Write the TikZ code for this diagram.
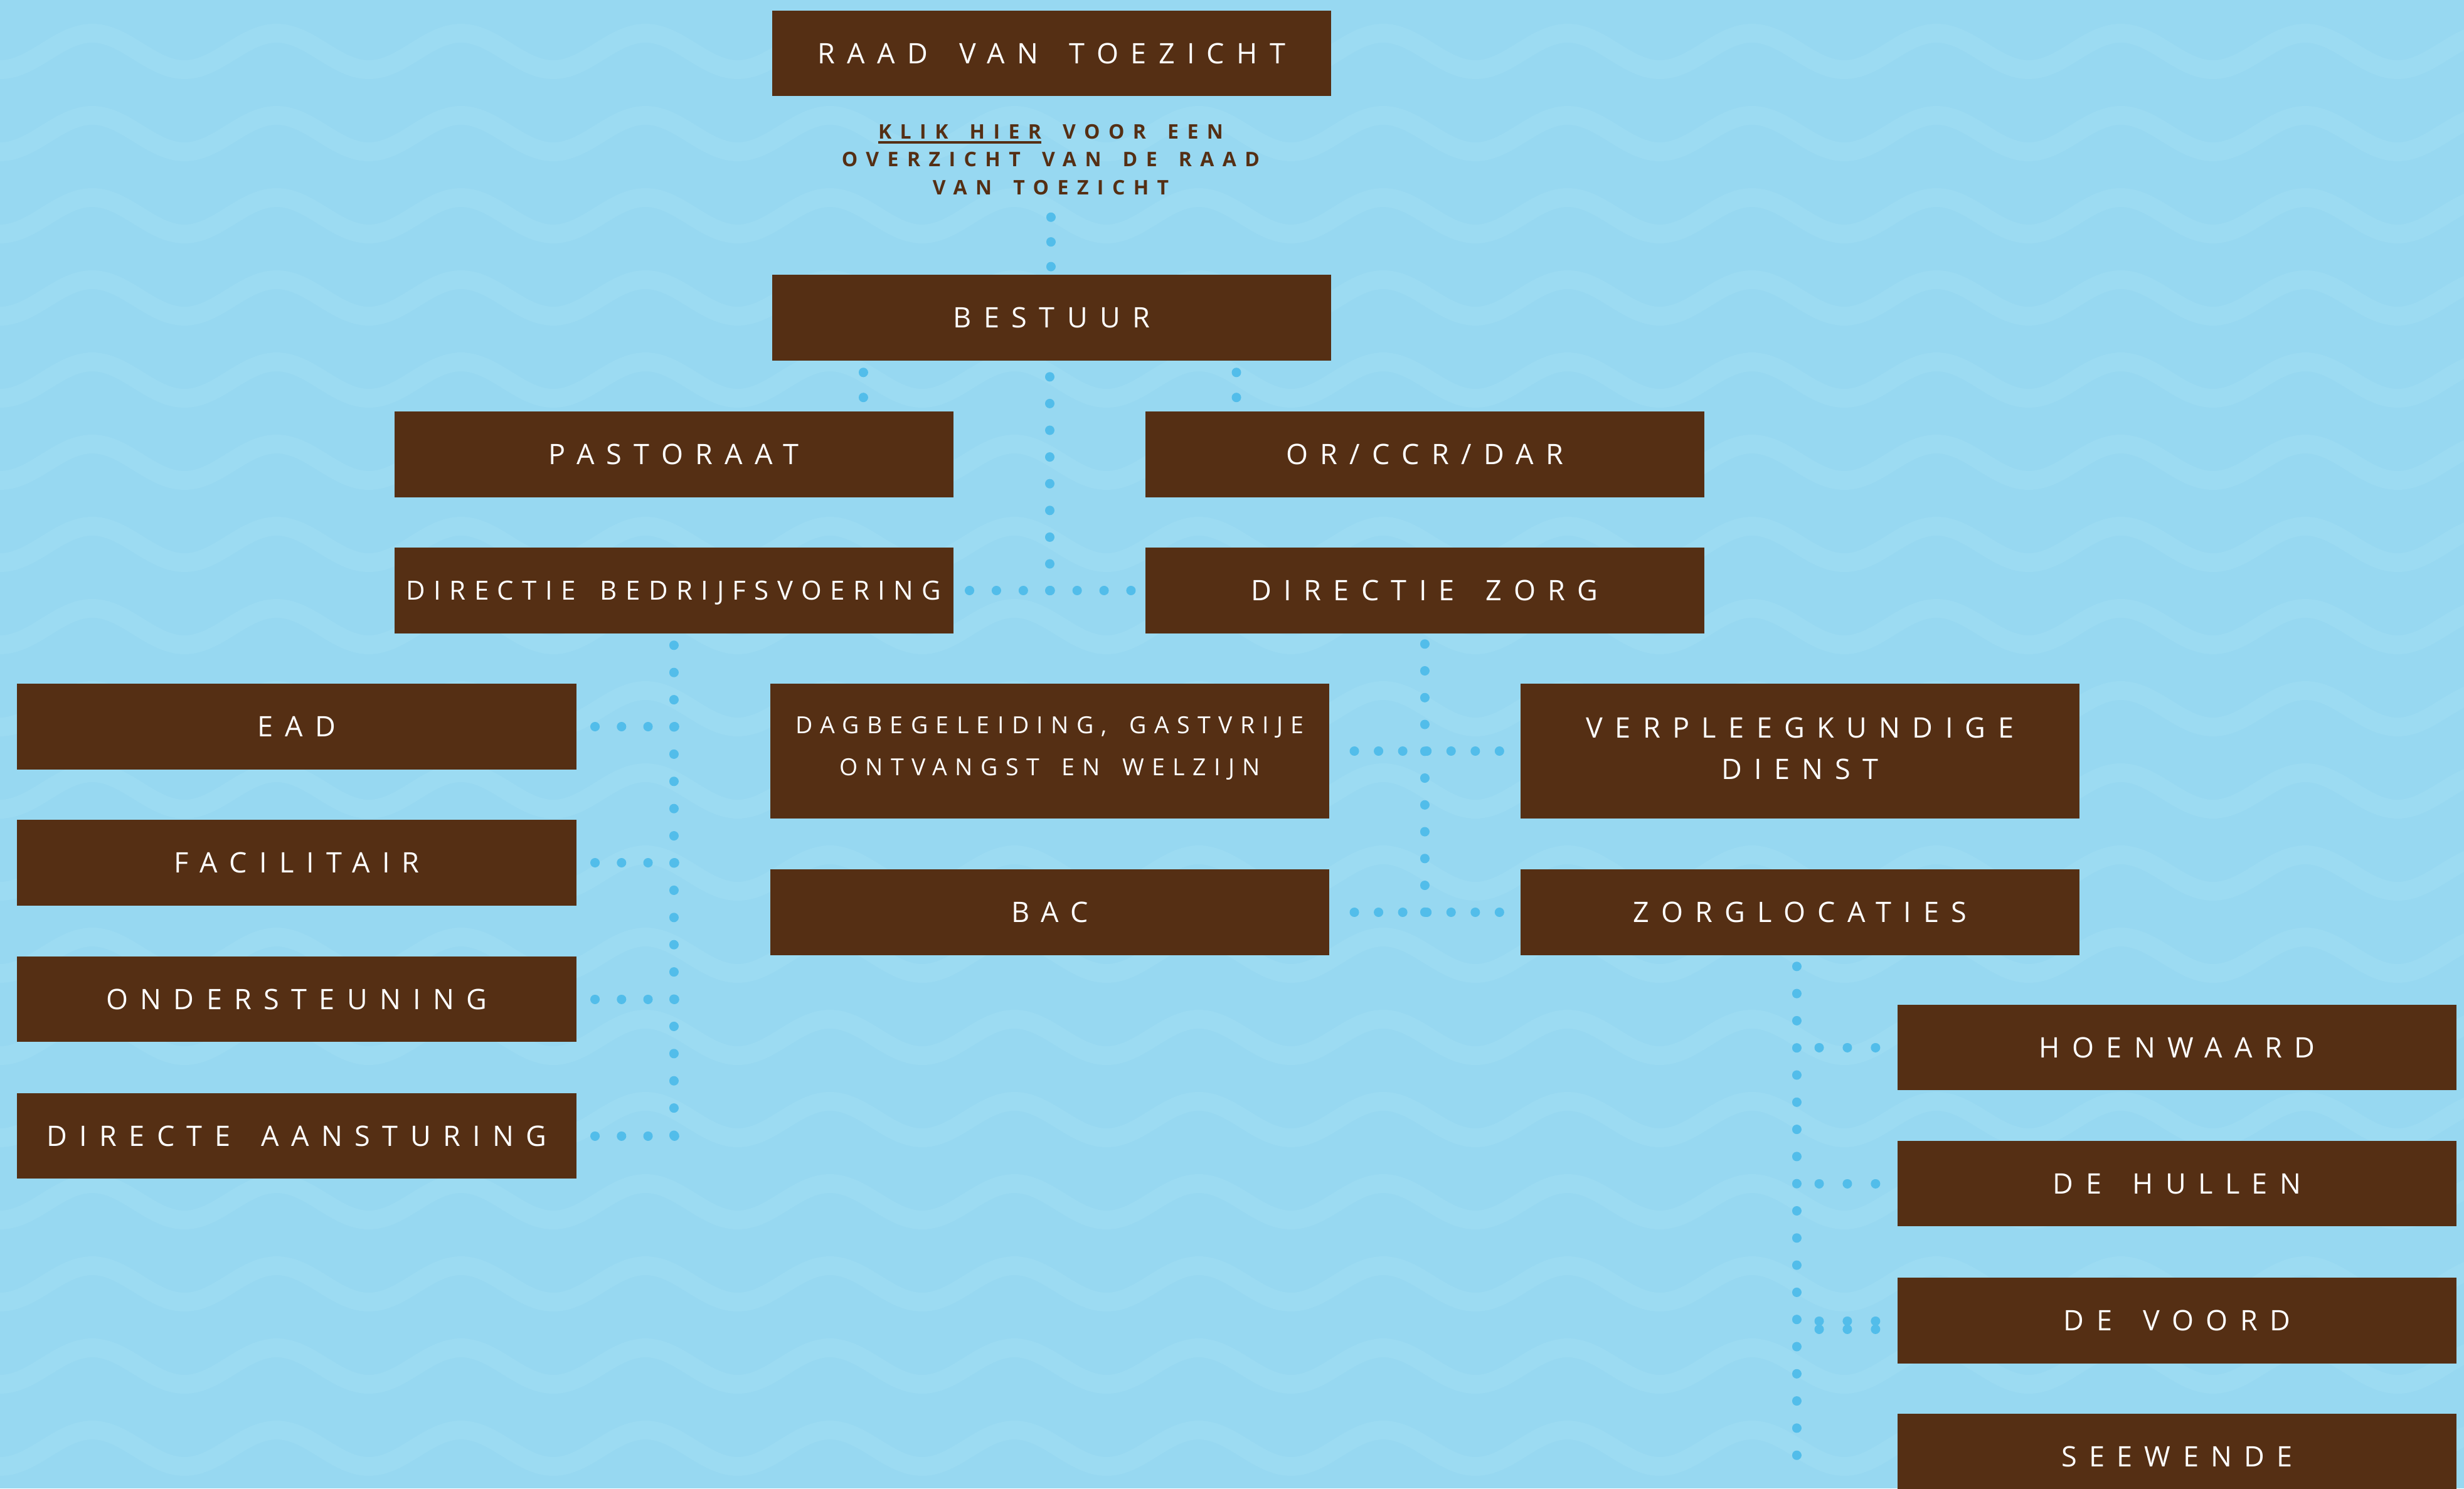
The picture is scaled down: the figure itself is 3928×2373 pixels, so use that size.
\documentclass[tikz,border=0pt]{standalone}
\usepackage{fontspec}
\setmainfont{Open Sans}
\newfontfamily\boxfont[LetterSpace=43,WordSpace=1.6]{Open Sans}
\newfontfamily\dbvfont[LetterSpace=32,WordSpace=1.6]{Open Sans}
\newfontfamily\dagfont[LetterSpace=33,WordSpace=1.6]{Open Sans}
\newfontfamily\klikfont[LetterSpace=42,WordSpace=1.57]{Open Sans}
\usetikzlibrary{calc}
\definecolor{bgc}{RGB}{151,216,241}
\definecolor{wavec}{RGB}{156,219,242}
\definecolor{boxc}{RGB}{85,47,20}
\definecolor{dotc}{RGB}{82,189,234}
\newcommand\klikul[1]{\setbox0\hbox{#1}\rlap{\rule[-1.6pt]{\wd0}{0.8pt}}\box0\relax}
\begin{document}
\begin{tikzpicture}[x=0.2pt,y=-0.2pt,
  orgbox/.style={fill=boxc, text=white, minimum width=178.2pt, minimum height=27.3pt,
    inner sep=0pt, font=\boxfont\fontsize{9pt}{13.2pt}\selectfont,
    text height=6.43pt, text depth=0pt},
  dbvstyle/.style={font=\dbvfont\fontsize{8.4pt}{12pt}\selectfont, text height=6pt},
  tallbox/.style={fill=boxc, text=white, minimum width=178.2pt, minimum height=43pt,
    inner sep=0pt, align=center, font=\boxfont\fontsize{9pt}{13.2pt}\selectfont,
    text depth=1.8pt},
  dagstyle/.style={font=\dagfont\fontsize{7.5pt}{13.4pt}\selectfont, text depth=3.2pt},
  kliktext/.style={anchor=north, inner sep=0pt, align=center, text=boxc,
    font=\klikfont\bfseries\fontsize{6.4pt}{8.9pt}\selectfont},
  dotline/.style={draw=dotc, line width=3pt, line cap=round, shorten >=-1.5pt,
    dash pattern=on 0.01pt off #1},
  wave/.style={draw=wavec, line width=6pt}
]
\useasboundingbox (0,0) rectangle (3928,2373);
\clip (0,0) rectangle (3928,2373);
\fill[bgc] (0,0) rectangle (3928,2373);
% background waves: period 294, peak-to-trough 58, rows every 131
\foreach \r in {0,...,18}{
  \draw[wave] (-147,{53+131*\r})
    \foreach \k in {0,...,14}{ cos ++(73.5,29) sin ++(73.5,29) cos ++(73.5,-29) sin ++(73.5,-29) };
}

% boxes
\node[orgbox] (raad) at (1676.5,85) {RAAD VAN TOEZICHT};
\node[kliktext] (klik) at (1675,197) {\klikul{KLIK HIER} VOOR EEN\\OVERZICHT VAN DE RAAD\\VAN TOEZICHT};
\node[orgbox] (bestuur) at (1676.5,506.5) {BESTUUR};
\node[orgbox] (pastoraat) at (1074,724.5) {PASTORAAT};
\node[orgbox] (orccr) at (2271,724.5) {OR/CCR/DAR};
\node[orgbox, dbvstyle] (dbv) at (1074,941.5) {DIRECTIE BEDRIJFSVOERING};
\node[orgbox] (dz) at (2271,941.5) {DIRECTIE ZORG};
\node[orgbox] (ead) at (473,1158.5) {EAD};
\node[orgbox] (fac) at (473,1375.5) {FACILITAIR};
\node[orgbox] (ond) at (473,1593) {ONDERSTEUNING};
\node[orgbox] (dia) at (473,1811) {DIRECTE AANSTURING};
\node[tallbox, dagstyle] (dag) at (1673.5,1197.5) {DAGBEGELEIDING, GASTVRIJE\\ONTVANGST EN WELZIJN};
\node[tallbox] (verp) at (2869.5,1197.5) {VERPLEEGKUNDIGE\\DIENST};
\node[orgbox] (bac) at (1673.5,1454.5) {BAC};
\node[orgbox] (zorgl) at (2869.5,1454.5) {ZORGLOCATIES};
\node[orgbox] (hoen) at (3470.5,1670) {HOENWAARD};
\node[orgbox] (hullen) at (3470.5,1887) {DE HULLEN};
\node[orgbox] (voord) at (3470.5,2105.5) {DE VOORD};
\node[orgbox] (seew) at (3470.5,2322) {SEEWENDE};

% connectors
\draw[dotline=7.87pt] ($(bestuur.north)+(-1.5,-91)$) -- ($(bestuur.north)+(-1.5,-12)$);
\draw[dotline=7.97pt] ($(bestuur.south)+(-300.5,18)$) -- ($(pastoraat.north)+(302,-23)$);
\draw[dotline=7.97pt] ($(bestuur.south)+(294.5,18)$) -- ($(orccr.north)+(-300,-23)$);
\coordinate (jn) at ($(bestuur.south |- dbv.east)+(-3,0)$);
\draw[dotline=8.51pt] ($(bestuur.south)+(-3,25)$) -- (jn);
\draw[dotline=8.57pt] ($(dbv.east)+(25,0)$) -- ($(dz.west)+(-24,0)$);

\draw[dotline=8.67pt] ($(dbv.south)+(0,18)$) -- (dbv.south |- dia.east);
\foreach \c in {ead,fac,ond,dia}{
  \draw[dotline=8.44pt] ($(\c.east)+(29,0)$) -- (dbv.south |- \c.east);
}

\draw[dotline=8.54pt] ($(dz.south)+(0,16)$) -- (dz.south |- bac.east);
\draw[dotline=7.70pt] ($(dag.east)+(39,0)$) -- ($(verp.west)+(-34,0)$);
\draw[dotline=7.70pt] ($(bac.east)+(39,0)$) -- ($(zorgl.west)+(-34,0)$);

\coordinate (zl) at ($(zorgl.south)+(-5.5,0)$);
\draw[dotline=8.65pt] ($(zl)+(0,17)$) -- (zl |- seew.west);
\draw[dotline=8.97pt] ($(hoen.west)+(-124,0)$) -- ($(hoen.west)+(-34,0)$);
\draw[dotline=8.97pt] ($(hullen.west)+(-124,0)$) -- ($(hullen.west)+(-34,0)$);
\draw[dotline=8.97pt] ($(voord.west)+(-124,0.5)$) -- ($(voord.west)+(-34,0.5)$);
\draw[dotline=8.97pt] ($(voord.west)+(-124,13.5)$) -- ($(voord.west)+(-34,13.5)$);
\end{tikzpicture}
\end{document}
